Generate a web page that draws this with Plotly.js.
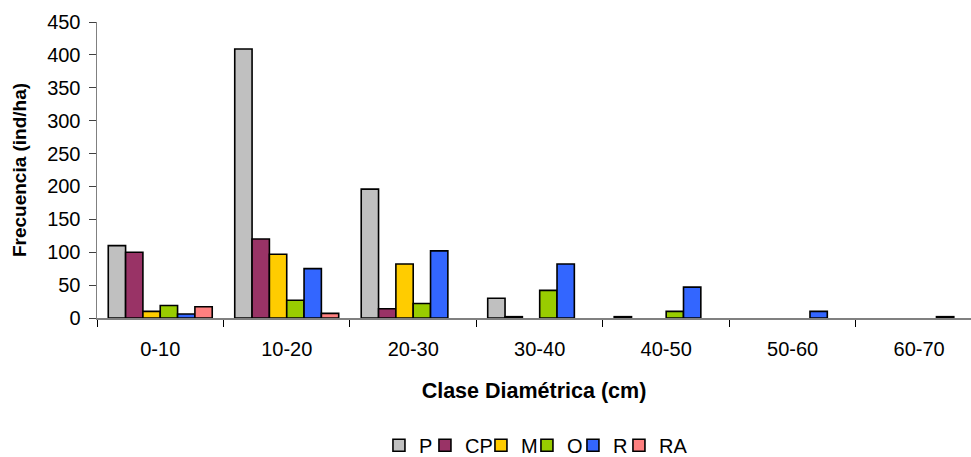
<!DOCTYPE html>
<html>
<head>
<meta charset="utf-8">
<script src="https://cdn.plot.ly/plotly-3.0.1.min.js"></script>
<style>
  html, body { margin: 0; padding: 0; background: #fff; overflow: hidden; }
  #chart { width: 971px; height: 470px; }
</style>
</head>
<body>
<div id="chart"></div>
<script>
const categories = ["0-10", "10-20", "20-30", "30-40", "40-50", "50-60", "60-70"];
const seriesNames = ["P", "CP", "M", "O", "R", "RA"];
const P  = [110, 409, 196, 30, 2, 0, 0];
const CP = [100, 120, 14, 2, 0, 0, 0];
const M  = [10, 97, 82, 0, 0, 0, 0];
const O  = [19, 27, 22, 42, 10, 0, 0];
const R  = [6, 75, 102, 82, 47, 10, 2];
const RA = [17, 7, 0, 0, 0, 0, 0];
const seriesValues = [P, CP, M, O, R, RA];
const colors = ["#C0C0C0", "#993366", "#FFCC00", "#99CC00", "#3366FF", "#FF8080"];
const legendWidths = [1, 11, 1, 1, 1, 30];

const traces = seriesNames.map((name, i) => ({
  type: "bar",
  name: name,
  x: categories,
  y: seriesValues[i],
  legendwidth: legendWidths[i],
  marker: {
    color: colors[i],
    line: { color: "#000000", width: seriesValues[i].map(v => (v > 0 ? 1.6 : 0)) }
  }
}));

const font = "Arial, 'Liberation Sans', sans-serif";

const layout = {
  width: 971,
  height: 470,
  paper_bgcolor: "#ffffff",
  plot_bgcolor: "#ffffff",
  margin: { l: 97, r: 0, t: 22, b: 151.5, pad: 0 },
  barmode: "group",
  bargap: 0.178,
  bargroupgap: 0,
  font: { family: font, size: 20, color: "#000000" },
  xaxis: {
    type: "category",
    range: [-0.5, 6.41],
    tickson: "boundaries",
    ticks: "outside",
    ticklen: 7,
    tickwidth: 1,
    tickcolor: "#000000",
    ticklabelstandoff: 12,
    showline: true,
    linecolor: "#808080",
    linewidth: 2,
    showgrid: false,
    zeroline: false,
    automargin: false,
    tickfont: { family: font, size: 20, color: "#000000" },
    title: { text: "<b>Clase Diamétrica (cm)</b>", font: { family: font, size: 21.5, color: "#000000" }, standoff: 24 }
  },
  yaxis: {
    range: [0, 450],
    dtick: 50,
    ticks: "outside",
    ticklen: 7,
    tickwidth: 1,
    tickcolor: "#404040",
    ticklabelstandoff: 4,
    showline: true,
    linecolor: "#808080",
    linewidth: 1.5,
    showgrid: false,
    zeroline: false,
    automargin: false,
    tickfont: { family: font, size: 20, color: "#000000" },
    title: { text: "<b>Frecuencia (ind/ha)</b>", font: { family: font, size: 19, color: "#000000" }, standoff: 15 }
  },
  showlegend: true,
  legend: {
    orientation: "h",
    x: 0.3226,
    xanchor: "left",
    y: -0.43,
    yanchor: "middle",
    font: { family: font, size: 20, color: "#000000" },
    entrywidthmode: "pixels",
    tracegroupgap: 0,
    bgcolor: "rgba(0,0,0,0)"
  }
};

Plotly.newPlot("chart", traces, layout, { displayModeBar: false, staticPlot: true });
</script>
</body>
</html>
